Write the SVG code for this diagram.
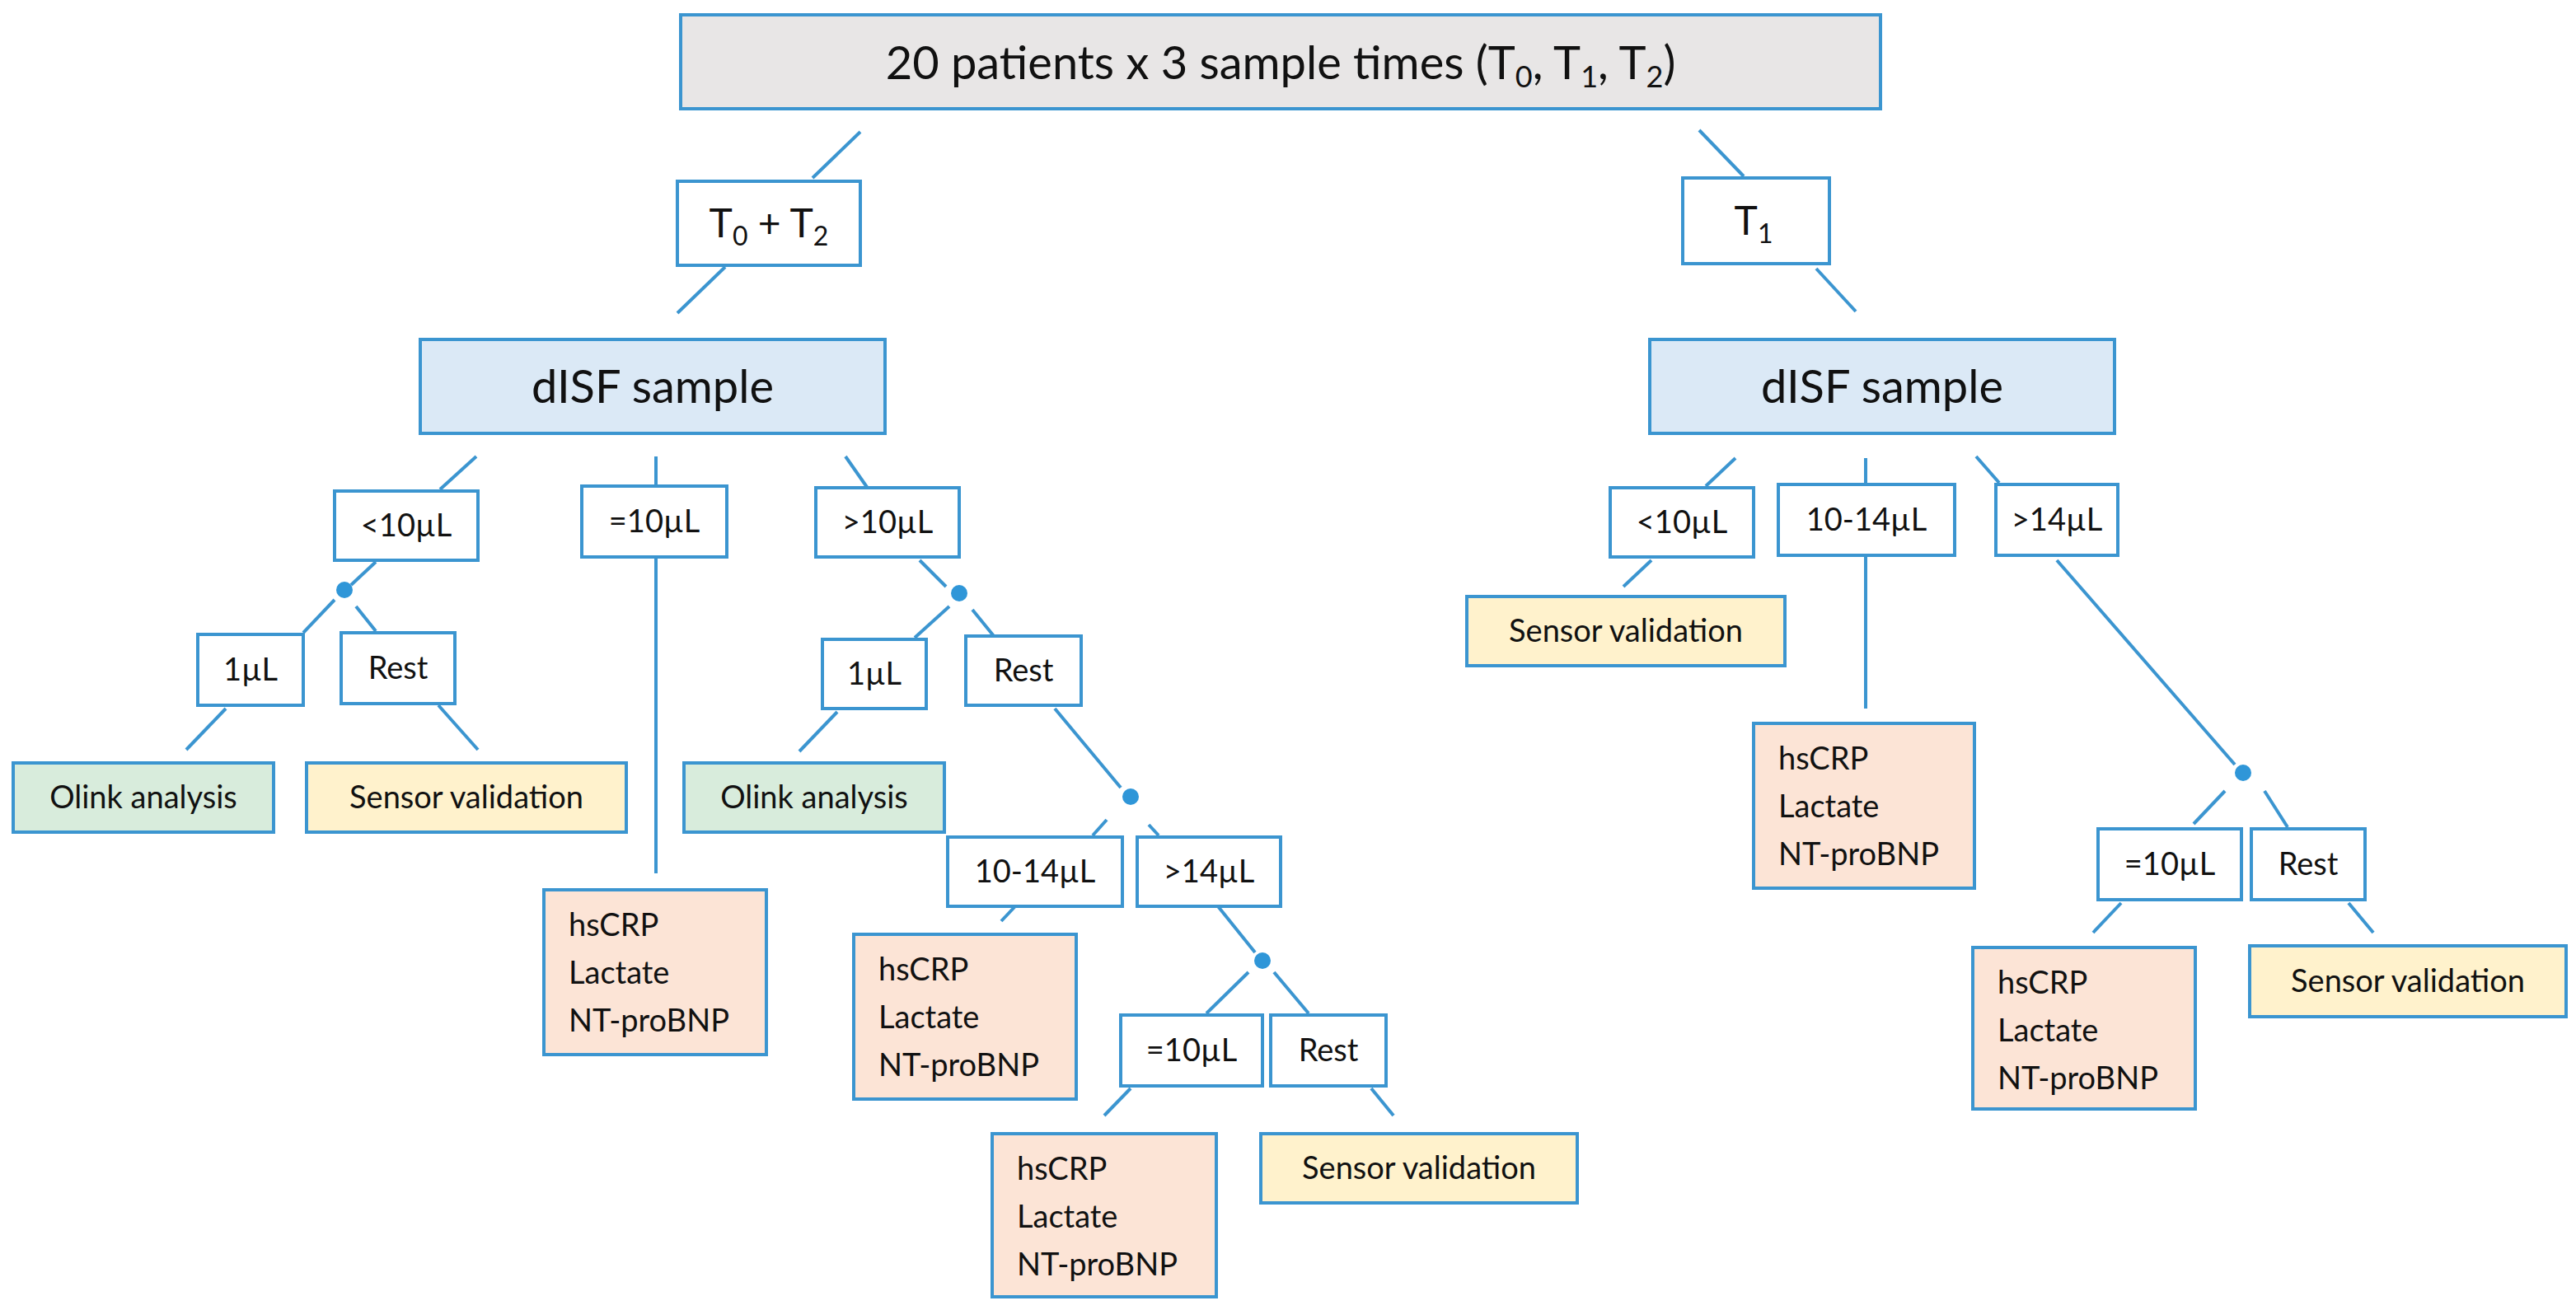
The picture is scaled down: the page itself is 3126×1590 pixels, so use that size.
<svg xmlns="http://www.w3.org/2000/svg" width="3126" height="1590" viewBox="0 0 3126 1590">
<style>
rect{stroke:#3b95d0;stroke-width:4}
.w{fill:#fff}.g{fill:#e8e6e6}.b{fill:#dbe9f6}.gr{fill:#d8ecdc}.y{fill:#fff2cc}.o{fill:#fce4d6}
text{font-family:Lato,"Liberation Sans",sans-serif;fill:#111;font-size:38px}
.c{text-anchor:middle}
.L{font-size:56px}
#conn line{stroke:#3b95d0;stroke-width:4}
#conn circle{fill:#2f96d8}
</style>
<rect width="3126" height="1590" fill="#fff" style="stroke:none"/>
<g id="conn">
<line x1="1044" y1="160" x2="986" y2="216"/>
<line x1="880" y1="324" x2="822" y2="380"/>
<line x1="2062" y1="158" x2="2116" y2="214"/>
<line x1="2204" y1="326" x2="2252" y2="378"/>
<line x1="578" y1="554" x2="534" y2="594"/>
<line x1="796" y1="554" x2="796" y2="590"/>
<line x1="796" y1="676" x2="796" y2="1060"/>
<line x1="1026" y1="554" x2="1054" y2="594"/>
<line x1="456" y1="682" x2="426" y2="710"/>
<circle cx="418" cy="716" r="10"/>
<line x1="406" y1="728" x2="368" y2="768"/>
<line x1="432" y1="736" x2="456" y2="766"/>
<line x1="274" y1="860" x2="226" y2="910"/>
<line x1="532" y1="856" x2="580" y2="910"/>
<line x1="1116" y1="680" x2="1148" y2="712"/>
<circle cx="1164" cy="720" r="10"/>
<line x1="1152" y1="736" x2="1110" y2="774"/>
<line x1="1180" y1="740" x2="1206" y2="772"/>
<line x1="1016" y1="864" x2="970" y2="912"/>
<line x1="1280" y1="860" x2="1360" y2="956"/>
<circle cx="1372" cy="967" r="10"/>
<line x1="1343" y1="995" x2="1326" y2="1014"/>
<line x1="1394" y1="1001" x2="1406" y2="1014"/>
<line x1="1232" y1="1100" x2="1215" y2="1118"/>
<line x1="1478" y1="1100" x2="1523" y2="1156"/>
<circle cx="1532" cy="1166" r="10"/>
<line x1="1515" y1="1180" x2="1464" y2="1230"/>
<line x1="1546" y1="1180" x2="1588" y2="1230"/>
<line x1="1372" y1="1321" x2="1340" y2="1354"/>
<line x1="1664" y1="1321" x2="1691" y2="1354"/>
<line x1="2106" y1="556" x2="2070" y2="590"/>
<line x1="2264" y1="556" x2="2264" y2="586"/>
<line x1="2398" y1="554" x2="2426" y2="586"/>
<line x1="2004" y1="680" x2="1970" y2="712"/>
<line x1="2264" y1="674" x2="2264" y2="860"/>
<line x1="2496" y1="680" x2="2712" y2="928"/>
<circle cx="2722" cy="938" r="10"/>
<line x1="2700" y1="960" x2="2662" y2="1000"/>
<line x1="2748" y1="960" x2="2776" y2="1004"/>
<line x1="2574" y1="1096" x2="2540" y2="1132"/>
<line x1="2850" y1="1096" x2="2880" y2="1132"/>
</g>
<g id="top"><rect class="g" x="826" y="18" width="1456" height="114"/><text class="c L" x="1554" y="96">20 patients x 3 sample times (T<tspan font-size="36" dy="10">0</tspan><tspan dy="-10">, T</tspan><tspan font-size="36" dy="10">1</tspan><tspan dy="-10">, T</tspan><tspan font-size="36" dy="10">2</tspan><tspan dy="-10">)</tspan></text></g>
<g id="t02"><rect class="w" x="822" y="220" width="222" height="102"/><text class="c" style="font-size:48px" x="933" y="288">T<tspan font-size="32" dy="10">0</tspan><tspan dy="-10"> + T</tspan><tspan font-size="32" dy="10">2</tspan></text></g>
<g id="t1"><rect class="w" x="2042" y="216" width="178" height="104"/><text class="c" style="font-size:48px" x="2128" y="285">T<tspan font-size="32" dy="10">1</tspan></text></g>
<g id="disfL"><rect class="b" x="510" y="412" width="564" height="114"/><text class="c L" x="792" y="489">dISF sample</text></g>
<g id="disfR"><rect class="b" x="2002" y="412" width="564" height="114"/><text class="c L" x="2284" y="489">dISF sample</text></g>
<g id="lt10L"><rect class="w" x="406" y="596" width="174" height="84"/><text class="c" x="493" y="651">&lt;10µL</text></g>
<g id="eq10L"><rect class="w" x="706" y="590" width="176" height="86"/><text class="c" x="794" y="646">=10µL</text></g>
<g id="gt10L"><rect class="w" x="990" y="592" width="174" height="84"/><text class="c" x="1077" y="647">&gt;10µL</text></g>
<g id="u1a"><rect class="w" x="240" y="770" width="128" height="86"/><text class="c" x="304" y="826">1µL</text></g>
<g id="resta"><rect class="w" x="414" y="768" width="138" height="86"/><text class="c" x="483" y="824">Rest</text></g>
<g id="olinkA"><rect class="gr" x="16" y="926" width="316" height="84"/><text class="c" x="174" y="981">Olink analysis</text></g>
<g id="sensA"><rect class="y" x="372" y="926" width="388" height="84"/><text class="c" x="566" y="981">Sensor validation</text></g>
<g id="hsA"><rect class="o" x="660" y="1080" width="270" height="200"/><text x="690" y="1136">hsCRP</text><text x="690" y="1194">Lactate</text><text x="690" y="1252">NT-proBNP</text></g>
<g id="u1b"><rect class="w" x="998" y="776" width="126" height="84"/><text class="c" x="1061" y="831">1µL</text></g>
<g id="restb"><rect class="w" x="1172" y="772" width="140" height="84"/><text class="c" x="1242" y="827">Rest</text></g>
<g id="olinkB"><rect class="gr" x="830" y="926" width="316" height="84"/><text class="c" x="988" y="981">Olink analysis</text></g>
<g id="r1014L"><rect class="w" x="1150" y="1016" width="212" height="84"/><text class="c" x="1256" y="1071">10-14µL</text></g>
<g id="gt14L"><rect class="w" x="1380" y="1016" width="174" height="84"/><text class="c" x="1467" y="1071">&gt;14µL</text></g>
<g id="hsB"><rect class="o" x="1036" y="1134" width="270" height="200"/><text x="1066" y="1190">hsCRP</text><text x="1066" y="1248">Lactate</text><text x="1066" y="1306">NT-proBNP</text></g>
<g id="eq10b"><rect class="w" x="1360" y="1232" width="172" height="86"/><text class="c" x="1446" y="1288">=10µL</text></g>
<g id="restc"><rect class="w" x="1542" y="1232" width="140" height="86"/><text class="c" x="1612" y="1288">Rest</text></g>
<g id="hsC"><rect class="o" x="1204" y="1376" width="272" height="198"/><text x="1234" y="1432">hsCRP</text><text x="1234" y="1490">Lactate</text><text x="1234" y="1548">NT-proBNP</text></g>
<g id="sensC"><rect class="y" x="1530" y="1376" width="384" height="84"/><text class="c" x="1722" y="1431">Sensor validation</text></g>
<g id="lt10R"><rect class="w" x="1954" y="592" width="174" height="84"/><text class="c" x="2041" y="647">&lt;10µL</text></g>
<g id="r1014R"><rect class="w" x="2158" y="588" width="214" height="86"/><text class="c" x="2265" y="644">10-14µL</text></g>
<g id="gt14R"><rect class="w" x="2422" y="588" width="148" height="86"/><text class="c" x="2496" y="644">&gt;14µL</text></g>
<g id="sensR"><rect class="y" x="1780" y="724" width="386" height="84"/><text class="c" x="1973" y="779">Sensor validation</text></g>
<g id="hsR"><rect class="o" x="2128" y="878" width="268" height="200"/><text x="2158" y="934">hsCRP</text><text x="2158" y="992">Lactate</text><text x="2158" y="1050">NT-proBNP</text></g>
<g id="eq10R"><rect class="w" x="2546" y="1006" width="174" height="86"/><text class="c" x="2633" y="1062">=10µL</text></g>
<g id="restR"><rect class="w" x="2732" y="1006" width="138" height="86"/><text class="c" x="2801" y="1062">Rest</text></g>
<g id="hsR2"><rect class="o" x="2394" y="1150" width="270" height="196"/><text x="2424" y="1206">hsCRP</text><text x="2424" y="1264">Lactate</text><text x="2424" y="1322">NT-proBNP</text></g>
<g id="sensR2"><rect class="y" x="2730" y="1148" width="384" height="86"/><text class="c" x="2922" y="1204">Sensor validation</text></g>
</svg>
